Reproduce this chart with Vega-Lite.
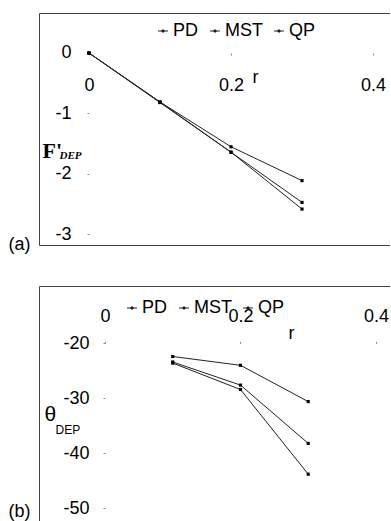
{
  "$schema": "https://vega.github.io/schema/vega-lite/v6.json",
  "padding": {"left": 8, "top": 13, "right": 0, "bottom": 0},
  "background": "white",
  "resolve": {"scale": {"color": "independent"}, "legend": {"color": "independent"}},
  "config": {
    "view": {"stroke": null},
    "axis": {"grid": false, "labelFont": "Liberation Sans", "labelFontSize": 18, "labelColor": "black", "titleFont": "Liberation Sans", "titleFontSize": 18, "titleFontWeight": "normal", "titleColor": "black", "tickColor": "#888", "tickSize": 2, "labelAngle": 0},
    "legend": {"orient": "none", "direction": "horizontal", "labelFont": "Liberation Sans", "labelFontSize": 18, "labelColor": "black", "symbolType": "M-1,0H1M-0.2,-0.2H0.2V0.2H-0.2Z", "symbolSize": 100, "symbolStrokeWidth": 1, "symbolStrokeColor": "black", "symbolFillColor": "black", "labelOffset": 1, "columnPadding": 7}
  },
  "datasets": {
    "a": [
      {"series": "PD", "r": 0, "v": 0}, {"series": "PD", "r": 0.1, "v": -0.81}, {"series": "PD", "r": 0.2, "v": -1.55}, {"series": "PD", "r": 0.3, "v": -2.11},
      {"series": "MST", "r": 0, "v": 0}, {"series": "MST", "r": 0.1, "v": -0.81}, {"series": "MST", "r": 0.2, "v": -1.64}, {"series": "MST", "r": 0.3, "v": -2.47},
      {"series": "QP", "r": 0, "v": 0}, {"series": "QP", "r": 0.1, "v": -0.82}, {"series": "QP", "r": 0.2, "v": -1.64}, {"series": "QP", "r": 0.3, "v": -2.58}
    ],
    "b": [
      {"series": "PD", "r": 0.1, "v": -22.4}, {"series": "PD", "r": 0.2, "v": -24.0}, {"series": "PD", "r": 0.3, "v": -30.6},
      {"series": "MST", "r": 0.1, "v": -23.4}, {"series": "MST", "r": 0.2, "v": -27.6}, {"series": "MST", "r": 0.3, "v": -38.2},
      {"series": "QP", "r": 0.1, "v": -23.6}, {"series": "QP", "r": 0.2, "v": -28.4}, {"series": "QP", "r": 0.3, "v": -43.8}
    ]
  },
  "vconcat": [
    {
      "width": 351, "height": 232,
      "data": {"name": "a"},
      "resolve": {"axis": {"x": "independent", "y": "independent"}},
      "layer": [
        {
          "mark": {"type": "line", "strokeWidth": 1},
          "encoding": {
            "x": {"field": "r", "type": "quantitative", "scale": {"domain": [-0.0704, 0.4239], "nice": false, "zero": false},
              "axis": {"orient": "bottom", "offset": -192, "domain": false, "values": [0, 0.2, 0.4], "labelExpr": "datum.value == 0 ? '0' : datum.label", "labelPadding": 21, "title": "r", "titleX": 216, "titleY": 29, "titleAlign": "center", "titleBaseline": "alphabetic"}},
            "y": {"field": "v", "type": "quantitative", "scale": {"domain": [-3.174, 0.661], "nice": false, "zero": false},
              "axis": {"orient": "left", "offset": -50, "domain": false, "values": [0, -1, -2, -3], "labelPadding": 16, "labelExpr": "replace(datum.label, '\u2212', '-')", "title": "F'", "titleFont": "Liberation Serif", "titleFontWeight": "bold", "titleFontSize": 22, "titleAngle": 0, "titleAlign": "left", "titleBaseline": "alphabetic", "titleX": -47, "titleY": 144}},
            "color": {"field": "series", "type": "nominal", "scale": {"domain": ["PD", "MST", "QP"], "range": ["#222", "#222", "#222"]},
              "legend": {"title": null, "legendX": 115, "legendY": 9}}
          }
        },
        {
          "mark": {"type": "point", "shape": "square", "filled": true, "size": 10, "color": "black", "opacity": 1},
          "encoding": {
            "x": {"field": "r", "type": "quantitative", "axis": {"orient": "top", "labels": false, "ticks": false, "domain": true, "domainColor": "#444", "title": null}},
            "y": {"field": "v", "type": "quantitative", "axis": {"orient": "left", "labels": false, "ticks": false, "domain": true, "domainColor": "#444", "title": "(a)", "titleAngle": 0, "titleAlign": "right", "titleBaseline": "alphabetic", "titleX": -9, "titleY": 236}}
          }
        },
        {
          "mark": {"type": "point", "opacity": 0},
          "encoding": {
            "x": {"field": "r", "type": "quantitative", "axis": {"orient": "bottom", "labels": false, "ticks": false, "domain": true, "domainColor": "#444", "title": "DEP", "titleFont": "Liberation Serif", "titleFontWeight": "bold", "titleFontStyle": "italic", "titleFontSize": 11, "titleAlign": "left", "titleBaseline": "alphabetic", "titleX": 20, "titleY": -87}},
            "y": {"field": "v", "type": "quantitative", "axis": null}
          }
        }
      ]
    },
    {
      "width": 351, "height": 235,
      "data": {"name": "b"},
      "resolve": {"axis": {"x": "independent", "y": "independent"}},
      "layer": [
        {
          "mark": {"type": "line", "strokeWidth": 1},
          "encoding": {
            "x": {"field": "r", "type": "quantitative", "scale": {"domain": [-0.0974, 0.4207], "nice": false, "zero": false},
              "axis": {"orient": "top", "offset": -57.3, "domain": false, "values": [0, 0.2, 0.4], "labelExpr": "datum.value == 0 ? '0' : datum.label", "labelPadding": 16, "title": "r", "titleX": 252, "titleY": -5, "titleAlign": "center", "titleBaseline": "alphabetic"}},
            "y": {"field": "v", "type": "quantitative", "scale": {"domain": [-52.31, -9.58], "nice": false, "zero": false},
              "axis": {"orient": "left", "offset": -66, "domain": false, "values": [-20, -30, -40, -50], "labelPadding": 14, "labelExpr": "replace(datum.label, '\u2212', '-')", "title": "θ", "titleFontSize": 21, "titleAngle": 0, "titleAlign": "left", "titleBaseline": "alphabetic", "titleX": -61, "titleY": 134}},
            "color": {"field": "series", "type": "nominal", "scale": {"domain": ["PD", "MST", "QP"], "range": ["#222", "#222", "#222"]},
              "legend": {"title": null, "legendX": 84, "legendY": 13}}
          }
        },
        {
          "mark": {"type": "point", "shape": "square", "filled": true, "size": 10, "color": "black", "opacity": 1},
          "encoding": {
            "x": {"field": "r", "type": "quantitative", "axis": {"orient": "top", "labels": false, "ticks": false, "domain": true, "domainColor": "#444", "title": "DEP", "titleFontSize": 12, "titleAlign": "left", "titleBaseline": "alphabetic", "titleX": 16, "titleY": 147}},
            "y": {"field": "v", "type": "quantitative", "axis": {"orient": "left", "labels": false, "ticks": false, "domain": true, "domainColor": "#444", "title": "(b)", "titleAngle": 0, "titleAlign": "right", "titleBaseline": "alphabetic", "titleX": -9, "titleY": 230}}
          }
        }
      ]
    }
  ],
  "spacing": 33
}
